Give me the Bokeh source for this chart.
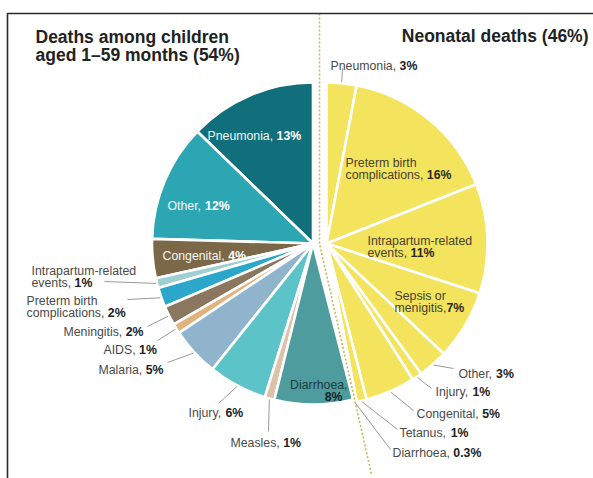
import numpy as np
from bokeh.plotting import figure
from bokeh.models import ColumnDataSource, Range1d
from bokeh.core.properties import value
from bokeh.embed import file_html
from bokeh.resources import INLINE

# ---------------- data ----------------
child_causes = ["Pneumonia", "Other", "Congenital", "Intrapartum-related events",
                "Preterm birth complications", "Meningitis", "AIDS", "Malaria",
                "Injury", "Measles", "Diarrhoea"]
child_values = [13, 12, 4, 1, 2, 2, 1, 5, 6, 1, 8]
child_colors = ["#106f7a", "#2ca6b3", "#7b6848", "#9ed0d3", "#2ba7cc", "#8b7660",
                "#e2b27c", "#8fb4cc", "#5cc4c8", "#dcc2a8", "#4f9c9e"]
child_share = 54

neo_causes = ["Pneumonia", "Preterm birth complications", "Intrapartum-related events",
              "Sepsis or menigitis", "Other", "Injury", "Congenital", "Tetanus", "Diarrhoea"]
neo_values = [3, 16, 11, 7, 3, 1, 5, 1, 0.3]
neo_color = "#f4e35c"
neo_share = 46

title_left = ["Deaths among children", "aged 1\u201359 months (%d%%)" % child_share]
title_right = "Neonatal deaths (%d%%)" % neo_share

# ---------------- layout ----------------
W, H = 593, 478
def Y(py):
    return H - py

R = 161
child_c = (312.5, 243)
neo_c = (326, 243)
FONT = "Liberation Sans"
FS = 12.3

# Helvetica / Liberation Sans advance widths (1/1000 em)
HW = {' ': 278, ',': 278, '-': 333, '.': 278, '%': 889}
for ch in "0123456789":
    HW[ch] = 556
HW.update(dict(zip("ABCDEFGHIJKLMNOPQRSTUVWXYZ",
                   [667, 667, 722, 722, 667, 611, 778, 722, 278, 500, 667, 556, 833,
                    722, 778, 667, 778, 722, 667, 611, 722, 667, 944, 667, 667, 611])))
HW.update(dict(zip("abcdefghijklmnopqrstuvwxyz",
                   [556, 556, 500, 556, 556, 278, 556, 556, 222, 222, 500, 222, 833,
                    556, 556, 556, 556, 333, 500, 278, 556, 500, 722, 500, 500, 500])))
def tw(s, size=FS):
    return sum(HW.get(c, 556) for c in s) / 1000.0 * size

# ---------------- figure ----------------
p = figure(width=W, height=H, x_range=Range1d(0, W), y_range=Range1d(0, H),
           output_backend="svg", toolbar_location=None, min_border=0,
           x_axis_location=None, y_axis_location=None)
p.grid.visible = False
p.outline_line_color = None
p.background_fill_color = "white"
p.border_fill_color = "white"

# children half: counter-clockwise from 12 o'clock, scaled to its share
cscale = child_share / sum(child_values) * 3.6
ccum = np.concatenate([[0], np.cumsum(child_values)]) * cscale
c_start = np.radians(90 + ccum[:-1])
c_end = np.radians(90 + ccum[1:])
csrc = ColumnDataSource(dict(x=[child_c[0]] * len(child_values), y=[Y(child_c[1])] * len(child_values),
                             s=c_start, e=c_end, color=child_colors))
p.wedge(x="x", y="y", radius=R, start_angle="s", end_angle="e", fill_color="color",
        line_color="white", line_width=2.6, source=csrc)

# neonatal half: clockwise from 12 o'clock
ncum = np.concatenate([[0], np.cumsum(neo_values)]) * 3.6
n_start = np.radians(90 - ncum[1:])
n_end = np.radians(90 - ncum[:-1])
nsrc = ColumnDataSource(dict(x=[neo_c[0]] * len(neo_values), y=[Y(neo_c[1])] * len(neo_values),
                             s=n_start, e=n_end, color=[neo_color] * len(neo_values)))
p.wedge(x="x", y="y", radius=R, start_angle="s", end_angle="e", fill_color="color",
        line_color="white", line_width=2.6, source=nsrc)

# dividing dotted line
p.line([319, 319, 371], [Y(13), Y(243), Y(474)], line_color="#c9b955",
       line_width=1.6, line_dash="2 2")

# frame
p.line([7, 7, W], [0, Y(13), Y(13)], line_color="#2a2a2a", line_width=1.6)

# ---------------- labels ----------------
def pct(v):
    return "%g%%" % v

# (side, index, x0, baseline, first_line or None, second-line normal text, kind)
labels = [
    ("c", 0, 207, 135, None, "Pneumonia, ", "w"),
    ("c", 1, 167, 205, None, "Other, ", "w"),
    ("c", 2, 162, 255, None, "Congenital, ", "w"),
    ("c", 3, 31, 270, "Intrapartum-related", "events, ", "o"),
    ("c", 4, 26, 300, "Preterm birth", "complications, ", "o"),
    ("c", 5, 63, 331, None, "Meningitis, ", "o"),
    ("c", 6, 103, 349, None, "AIDS, ", "o"),
    ("c", 7, 98, 369, None, "Malaria, ", "o"),
    ("c", 8, 188, 412, None, "Injury, ", "o"),
    ("c", 9, 230, 442, None, "Measles, ", "o"),
    ("n", 0, 330, 65, None, "Pneumonia, ", "o"),
    ("n", 1, 345, 162, "Preterm birth", "complications, ", "y"),
    ("n", 2, 367, 240, "Intrapartum-related", "events, ", "y"),
    ("n", 3, 394, 295, "Sepsis or", "menigitis,", "y"),
    ("n", 4, 458, 373, None, "Other, ", "o"),
    ("n", 5, 435, 391, None, "Injury, ", "o"),
    ("n", 6, 416, 413, None, "Congenital, ", "o"),
    ("n", 7, 399, 432, None, "Tetanus, ", "o"),
    ("n", 8, 392, 452, None, "Diarrhoea, ", "o"),
]
colors_norm = {"w": "#eef7f7", "o": "#4a4a4a", "y": "#45432f"}
colors_bold = {"w": "#ffffff", "o": "#222222", "y": "#2b2a1c"}
LH = 12.5

nx, ny, nt, nc = [], [], [], []
bx, by, bt, bc = [], [], [], []
for side, i, x0, yb, l1, l2, kind in labels:
    v = child_values[i] if side == "c" else neo_values[i]
    if l1 is not None:
        nx.append(x0); ny.append(Y(yb)); nt.append(l1); nc.append(colors_norm[kind])
        yb2 = yb + LH
    else:
        yb2 = yb
    nx.append(x0); ny.append(Y(yb2)); nt.append(l2); nc.append(colors_norm[kind])
    bx.append(x0 + tw(l2)); by.append(Y(yb2)); bt.append(pct(v)); bc.append(colors_bold[kind])

p.text(x=nx, y=ny, text=nt, text_color=nc, text_font=value(FONT),
       text_font_size="%.1fpx" % FS, text_align="left", text_baseline="alphabetic")
p.text(x=bx, y=by, text=bt, text_color=bc, text_font=value(FONT), text_font_style="bold",
       text_font_size="%.1fpx" % FS, text_align="left", text_baseline="alphabetic")

# Diarrhoea 8% (right aligned, inside slice)
p.text(x=[347], y=[Y(384)], text=[child_causes[10] + ","], text_color="#1d3b3c",
       text_font=value(FONT), text_font_size="%.1fpx" % FS, text_align="right",
       text_baseline="alphabetic")
p.text(x=[342], y=[Y(396)], text=[pct(child_values[10])], text_color="#10292a",
       text_font=value(FONT), text_font_style="bold", text_font_size="%.1fpx" % FS,
       text_align="right", text_baseline="alphabetic")

# ---------------- leader lines ----------------
def child_edge(i, r=R):
    mid = 90 + (ccum[i] + ccum[i + 1]) / 2
    a = np.radians(mid)
    return child_c[0] + r * np.cos(a), child_c[1] - r * np.sin(a)

def neo_edge(i, r=R):
    mid = 90 - (ncum[i] + ncum[i + 1]) / 2
    a = np.radians(mid)
    return neo_c[0] + r * np.cos(a), neo_c[1] - r * np.sin(a)

leaders = [
    ("c", 3, (104, 281)), ("c", 4, (127, 299)), ("c", 5, (147, 326)),
    ("c", 6, (157, 340)), ("c", 7, (167, 362)), ("c", 8, (218, 403)),
    ("c", 9, (268, 431)),
    ("n", 0, (342, 68)), ("n", 4, (453, 368)), ("n", 5, (431, 388)),
    ("n", 6, (413, 410)), ("n", 7, (397, 429)), ("n", 8, (390, 449)),
]
lxs, lys = [], []
for side, i, (ox, oy) in leaders:
    ex, ey = child_edge(i, R + 1) if side == "c" else neo_edge(i, R + 1)
    lxs.append([ex, ox]); lys.append([Y(ey), Y(oy)])
p.multi_line(xs=lxs, ys=lys, line_color="#9a9a9a", line_width=1)

# ---------------- titles ----------------
p.text(x=[35, 35], y=[Y(36), Y(54)], text=title_left, text_color="#222222",
       text_font=value(FONT), text_font_style="bold", text_font_size="17.5px",
       text_align="left", text_baseline="alphabetic")
p.text(x=[588], y=[Y(35)], text=[title_right], text_color="#222222",
       text_font=value(FONT), text_font_style="bold", text_font_size="17.5px",
       text_align="right", text_baseline="alphabetic")

open("out.html", "w").write(file_html(p, INLINE))
